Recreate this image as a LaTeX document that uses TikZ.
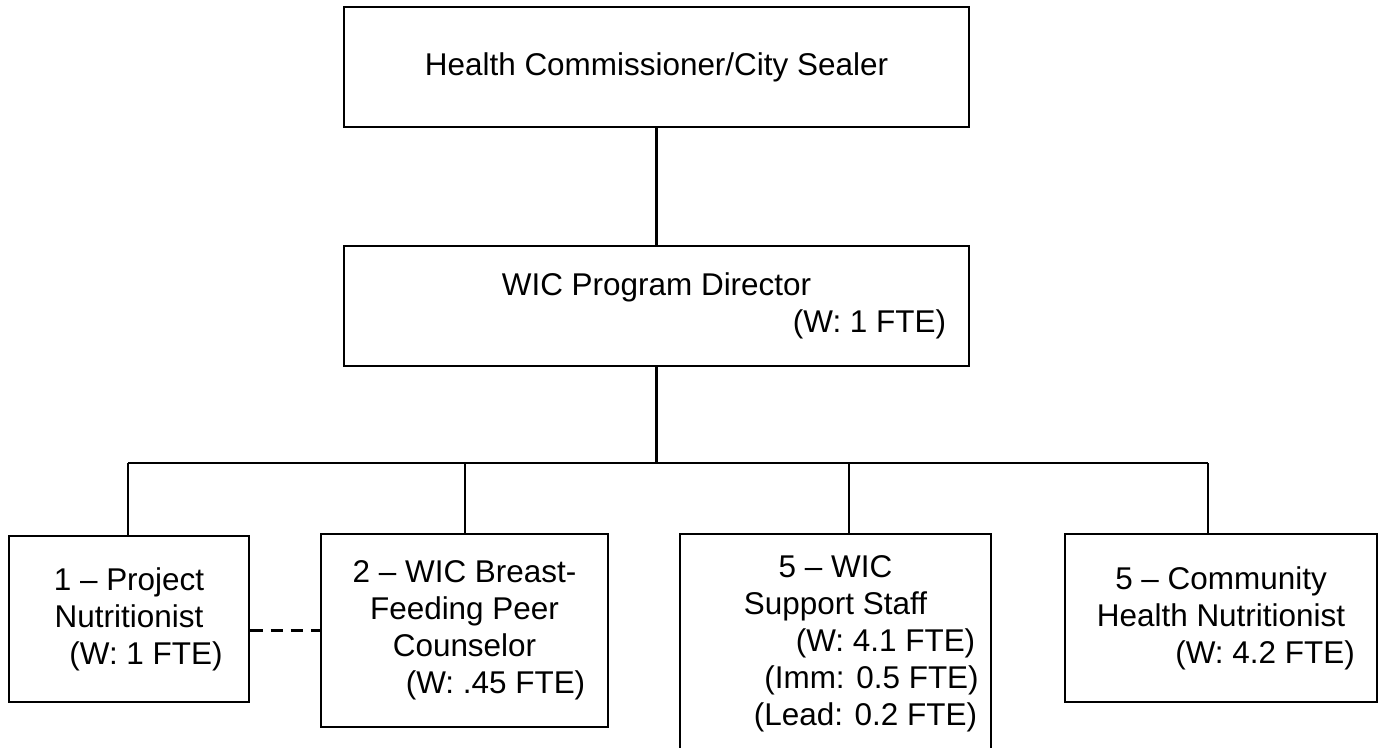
\documentclass[tikz,border=0pt]{standalone}
\usepackage{fontspec}
\setmainfont{Liberation Sans}

\begin{document}
\begin{tikzpicture}[box/.style={draw, line width=1.5pt, align=center, inner sep=0pt}, every node/.style={font=\fontsize{17.9pt}{21pt}\selectfont}]
		\useasboundingbox (0,0) rectangle (27.66,14.94);
		\clip (0,0) rectangle (27.66,14.94);
		
		\node[box, minimum width=12.5cm, minimum height=2.4cm] (hc) at (13.13,13.6) {Health Commissioner/City Sealer};
		\node[box, minimum width=12.5cm, minimum height=2.4cm] (dir) at (13.13,8.82) {WIC Program Director\\\hspace*{8.52cm}(W: 1 FTE)};
		
		\node[box, minimum width=4.8cm, minimum height=3.32cm] (pn) at (2.58,2.56) {1 – Project\\Nutritionist\\\hspace*{0.68cm}(W: 1 FTE)};
		\node[box, minimum width=5.74cm, minimum height=3.86cm] (bf) at (9.29,2.33) {2 – WIC Breast-\\Feeding Peer\\Counselor\\\hspace*{1.24cm}(W: .45 FTE)};
		\node[box, minimum width=6.22cm, minimum height=4.4cm] (ss) at (16.71,2.06) {5 – WIC\\Support Staff\\\hspace*{2cm}(W: 4.1 FTE)\\\hspace*{1.44cm}(Imm: 0.5 FTE)\\\hspace*{1.2cm}(Lead: 0.2 FTE)};
		\node[box, minimum width=6.24cm, minimum height=3.36cm] (chn) at (24.42,2.58) {5 – Community\\Health Nutritionist\\\hspace*{1.76cm}(W: 4.2 FTE)};
		
		\coordinate (d1) at (2.56,5.68);
		\coordinate (d2) at (9.3,5.68);
		\coordinate (d3) at (16.98,5.68);
		\coordinate (d4) at (24.16,5.68);
		
		\draw[line width=1.3pt] (hc) -- (dir);
		\draw[line width=1.3pt] (dir.south) -- (dir.south |- d1);
		\draw[line width=1.3pt] (d1) -- (d4);
		\draw[line width=1.3pt] (d1) -- (d1 |- pn.north);
		\draw[line width=1.3pt] (d2) -- (d2 |- bf.north);
		\draw[line width=1.3pt] (d3) -- (d3 |- ss.north);
		\draw[line width=1.3pt] (d4) -- (d4 |- chn.north);
		
		\draw[line width=1.3pt, dash pattern=on 7pt off 4.5pt] (pn.east |- bf.west) -- (bf.west);
		
	\end{tikzpicture}
\end{document}
